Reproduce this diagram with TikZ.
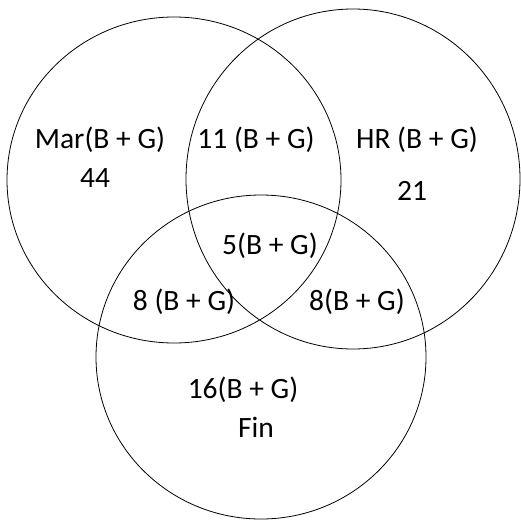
\documentclass[tikz,border=0pt]{standalone}
\usepackage{fontspec}
\setmainfont{Carlito}
\usepackage{tikz}
\usetikzlibrary{positioning}
\tikzset{
  venn set/.style={
    draw=black,
    line width=0.8pt
  },
  venn label/.style={
    font=\fontsize{29.5}{34}\selectfont,
    inner sep=0pt,
    anchor=center
  }
}
\begin{document}
\begin{tikzpicture}[x=1pt, y=-1pt]
  \useasboundingbox (0,0) rectangle (521,519);
  % Centres
  \coordinate (mar) at (174,180);
  \coordinate (hr) at (353,179);
  \coordinate (fin) at (261,357);

  % Sets
  \draw[venn set] (mar) ellipse[x radius=167, y radius=163];
  \draw[venn set] (hr) ellipse[x radius=167, y radius=170];
  \draw[venn set] (fin) ellipse[x radius=165, y radius=162];

  % Regions
  \node[venn label] (marlbl) at (100,140) {Mar(B + G)};
  \node[venn label] (marnum) at (95,178) {44};
  \node[venn label] (marhr) at (256,140) {11 (B + G)};
  \node[venn label] (hrlbl) at (417,140) {HR (B + G)};
  \node[venn label] (hrnum) at (412,191) {21};
  \node[venn label] (all) at (270,246) {5(B + G)};
  \node[venn label] (marfin) at (184,302) {8 (B + G)};
  \node[venn label] (hrfin) at (357,302) {8(B + G)};
  \node[venn label] (finnum) at (243,390) {16(B + G)};
  \node[venn label] (finlbl) at (256,427) {Fin};
\end{tikzpicture}
\end{document}
